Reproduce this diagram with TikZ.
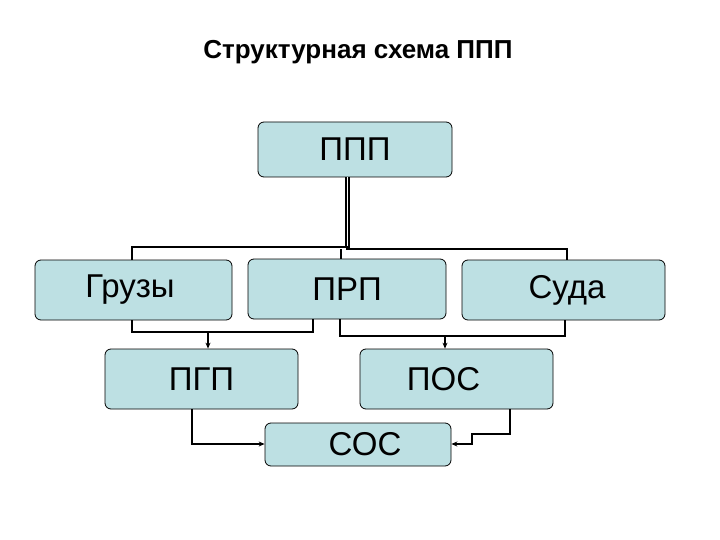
\documentclass[tikz,border=0pt]{standalone}
\usepackage{fontspec}
\setmainfont{Liberation Sans}
\usetikzlibrary{arrows.meta}
\definecolor{boxfill}{HTML}{BDE0E3}
\begin{document}
\begin{tikzpicture}[x=1pt,y=-1pt,
  box/.style={draw,thick,fill=boxfill,rounded corners=6pt,font=\fontsize{33}{36}\selectfont},
  ln/.style={line width=1.6pt},
  ar/.style={line width=1.6pt,-{Stealth[length=6pt,width=5pt]}}]
\useasboundingbox (0,0) rectangle (720,540);
\node[font=\bfseries\fontsize{26}{30}\selectfont] (title) at (358,52) {Структурная схема ППП};
\node[box,minimum width=194pt,minimum height=55pt] (ppp) at (355,149.5) {ППП};
\node[box,minimum width=197pt,minimum height=60pt] (gr) at (133.5,290) {Грузы\hspace*{7pt}};
\node[box,minimum width=198pt,minimum height=60pt] (prp) at (347,289) {ПРП};
\node[box,minimum width=203pt,minimum height=60pt] (suda) at (563.5,290) {\hspace*{7pt}Суда};
\node[box,minimum width=193pt,minimum height=60pt] (pgp) at (201.5,379) {ПГП};
\node[box,minimum width=193pt,minimum height=60pt] (pos) at (456.5,379) {ПОС\hspace*{26pt}};
\node[box,minimum width=186pt,minimum height=43pt] (sos) at (358,444.5) {\hspace*{14pt}СОС};
\draw[ln,double,double distance=1.5pt] (ppp.south -| 347.5,0) -- (347.5,248);
\draw[ln] (gr.north -| 132,0) -- (132,247) -- (347,247) -- (347,249) -- (567,249) -- (suda.north -| 567,0);
\draw[ln] (341,249) -- (prp.north -| 341,0);
\draw[ln] (gr.south -| 132,0) -- (132,332) -- (313,332) -- (prp.south -| 313,0);
\draw[ar] (208,332) -- (pgp.north -| 208,0);
\draw[ln] (prp.south -| 340,0) -- (340,336) -- (565,336) -- (suda.south -| 565,0);
\draw[ar] (445,336) -- (pos.north -| 445,0);
\draw[ar] (pgp.south -| 192,0) -- (192,444) -- (sos.west |- 0,444);
\draw[ar] (pos.south -| 510,0) -- (510,434) -- (472,434) -- (472,444) -- (sos.east |- 0,444);
\end{tikzpicture}
\end{document}
